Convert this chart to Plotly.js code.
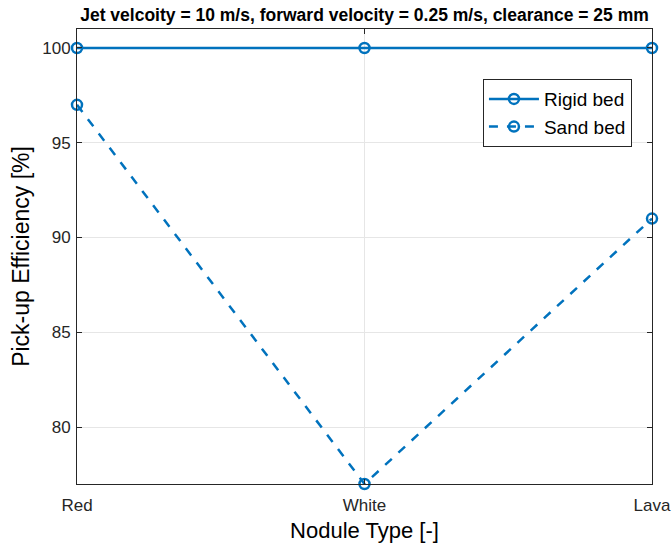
<!DOCTYPE html>
<html>
<head>
<meta charset="utf-8">
<script src="https://cdn.plot.ly/plotly-3.0.1.min.js"></script>
<style>html,body{margin:0;padding:0;background:#fff;}#chart{width:672px;height:547px;}</style>
</head>
<body>
<div id="chart"></div>
<script>
const categories = ["Red", "White", "Lava"];
const rigidBed = [100, 100, 100];
const sandBed = [97, 77, 91];
const yTicks = [80, 85, 90, 95, 100];

const color = "#0072BD";
const traces = [
  {x: categories, y: rigidBed, name: "Rigid bed", type: "scatter", mode: "lines+markers",
   line: {color: color, width: 2.5}, cliponaxis: false,
   marker: {symbol: "circle-open", size: 10, color: color, line: {width: 2.5, color: color}}},
  {x: categories, y: sandBed, name: "Sand bed", type: "scatter", mode: "lines+markers",
   line: {color: color, width: 2.5, dash: "dash"}, cliponaxis: false,
   marker: {symbol: "circle-open", size: 10, color: color, line: {width: 2.5, color: color}}}
];

const axisCommon = {
  showline: true, linecolor: "#262626", linewidth: 1, mirror: "ticks",
  ticks: "inside", ticklen: 5, tickcolor: "#262626",
  showgrid: true, gridcolor: "#e6e6e6", gridwidth: 1, zeroline: false,
  tickfont: {family: "Liberation Sans, Arial, sans-serif", size: 17, color: "#262626"}
};

const layout = {
  width: 672, height: 547,
  margin: {l: 77, r: 20, t: 29, b: 63},
  paper_bgcolor: "#fff", plot_bgcolor: "#fff",
  font: {family: "Liberation Sans, Arial, sans-serif", color: "#262626"},
  title: {text: "<b>Jet velcoity = 10 m/s, forward velocity = 0.25 m/s, clearance = 25 mm</b>",
          font: {size: 17.5, color: "#000"}, x: 0.5, xanchor: "center", y: 0.973, yanchor: "middle", xref: "paper"},
  xaxis: Object.assign({}, axisCommon, {
    type: "category", range: [0, 2], categoryorder: "array", categoryarray: categories,
    ticklabelstandoff: 6,
    title: {text: "Nodule Type [-]", font: {size: 22, color: "#000"}, standoff: 8}
  }),
  yaxis: Object.assign({}, axisCommon, {
    range: [77, 101], tickvals: yTicks, ticktext: yTicks.map(String),
    ticklabelstandoff: 2,
    title: {text: "Pick-up Efficiency [%]", font: {size: 23, color: "#000"}, standoff: 6}
  }),
  showlegend: true,
  legend: {x: 0.706, y: 0.89, xanchor: "left", yanchor: "top",
           bgcolor: "#fff", bordercolor: "#262626", borderwidth: 1,
           font: {size: 19, color: "#000"}, tracegroupgap: 0, itemwidth: 50}
};

Plotly.newPlot("chart", traces, layout, {displayModeBar: false, staticPlot: true});
</script>
</body>
</html>
